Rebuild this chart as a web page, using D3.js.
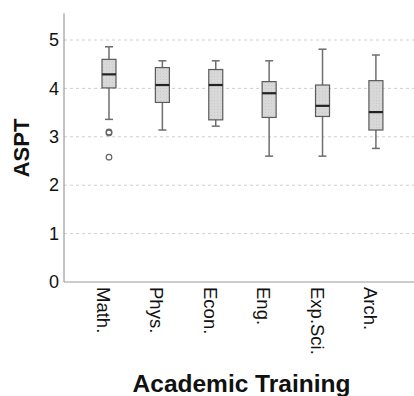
<!DOCTYPE html>
<html>
<head>
<meta charset="utf-8">
<script src="https://cdn.jsdelivr.net/npm/d3@7"></script>
<style>
  body { margin: 0; background: #fff; }
  text { font-family: "Liberation Sans", Arial, sans-serif; }
</style>
</head>
<body>
<script>
// values
var categories = ['Math.', 'Phys.', 'Econ.', 'Eng.', 'Exp.Sci.', 'Arch.']
var whiskerLow = [3.36, 3.14, 3.22, 2.60, 2.60, 2.76]
var q1 = [4.01, 3.71, 3.35, 3.40, 3.42, 3.14]
var medians = [4.29, 4.07, 4.07, 3.90, 3.64, 3.51]
var q3 = [4.60, 4.43, 4.39, 4.14, 4.07, 4.16]
var whiskerHigh = [4.86, 4.57, 4.57, 4.57, 4.81, 4.69]
var outlierCat = ['Math.', 'Math.', 'Math.']
var outlierVal = [3.10, 3.08, 2.58]
var yTicks = [0, 1, 2, 3, 4, 5]

var data = categories.map(function (c, i) {
  return { cat: c, lo: whiskerLow[i], q1: q1[i], med: medians[i], q3: q3[i], hi: whiskerHigh[i] }
})

var W = 414, H = 396
var svg = d3.select('body').append('svg')
  .attr('width', W)
  .attr('height', H)

var x = d3.scaleBand()
  .domain(categories)
  .range([82.3, 402.6])
var y = d3.scaleLinear()
  .domain([0, 5])
  .range([282, 40])

var left = 64
var boxW = 14, capW = 8
function cx(c) { return x(c) + x.bandwidth() / 2 }

// texture for the box fill
var defs = svg.append('defs')
var pat = defs.append('pattern')
  .attr('id', 'dots')
  .attr('width', 3).attr('height', 3)
  .attr('patternUnits', 'userSpaceOnUse')
pat.append('rect').attr('width', 3).attr('height', 3).attr('fill', '#d8d8d8')
pat.append('rect').attr('x', 1).attr('y', 1).attr('width', 1).attr('height', 1).attr('fill', '#cacaca')

// gridlines
svg.append('g')
  .selectAll('line')
  .data(yTicks.filter(function (t) { return t > 0 }))
  .enter()
  .append('line')
    .attr('x1', left)
    .attr('x2', W)
    .attr('y1', function (d) { return y(d) })
    .attr('y2', function (d) { return y(d) })
    .attr('stroke', '#cfcfcf')
    .attr('stroke-dasharray', '3,3')

// axes
var yAxis = d3.axisLeft(y)
  .tickValues(yTicks)
  .tickFormat(d3.format('d'))
  .tickSize(0)
  .tickPadding(5)
var gy = svg.append('g')
  .attr('transform', 'translate(' + left + ',0)')
  .call(yAxis)
gy.select('.domain').remove()
gy.selectAll('text')
  .attr('font-size', '18px')
  .attr('fill', '#111')
  .style('font-family', '"Liberation Sans", Arial, sans-serif')

svg.append('line')
  .attr('x1', left).attr('x2', left)
  .attr('y1', y(0)).attr('y2', y(5.55))
  .attr('stroke', '#888')
svg.append('line')
  .attr('x1', left).attr('x2', W)
  .attr('y1', y(0)).attr('y2', y(0))
  .attr('stroke', '#999')

// boxes
var g = svg.selectAll('.box')
  .data(data)
  .enter()
  .append('g')
    .attr('class', 'box')

g.append('line')
  .attr('x1', function (d) { return cx(d.cat) })
  .attr('x2', function (d) { return cx(d.cat) })
  .attr('y1', function (d) { return y(d.lo) })
  .attr('y2', function (d) { return y(d.hi) })
  .attr('stroke', '#6e6e6e')
  .attr('stroke-width', 1.5)

g.selectAll('.cap')
  .data(function (d) { return [{ cat: d.cat, v: d.lo }, { cat: d.cat, v: d.hi }] })
  .enter()
  .append('line')
    .attr('class', 'cap')
    .attr('x1', function (d) { return cx(d.cat) - capW / 2 })
    .attr('x2', function (d) { return cx(d.cat) + capW / 2 })
    .attr('y1', function (d) { return y(d.v) })
    .attr('y2', function (d) { return y(d.v) })
    .attr('stroke', '#6e6e6e')
    .attr('stroke-width', 1.5)

g.append('rect')
  .attr('x', function (d) { return cx(d.cat) - boxW / 2 })
  .attr('y', function (d) { return y(d.q3) })
  .attr('width', boxW)
  .attr('height', function (d) { return y(d.q1) - y(d.q3) })
  .attr('fill', 'url(#dots)')
  .attr('stroke', '#5a5a5a')
  .attr('stroke-width', 1.2)

g.append('line')
  .attr('x1', function (d) { return cx(d.cat) - boxW / 2 })
  .attr('x2', function (d) { return cx(d.cat) + boxW / 2 })
  .attr('y1', function (d) { return y(d.med) })
  .attr('y2', function (d) { return y(d.med) })
  .attr('stroke', '#222')
  .attr('stroke-width', 2.2)

// outliers
svg.selectAll('.outlier')
  .data(outlierVal)
  .enter()
  .append('circle')
    .attr('class', 'outlier')
    .attr('cx', function (d, i) { return cx(outlierCat[i]) })
    .attr('cy', function (d) { return y(d) })
    .attr('r', 2.8)
    .attr('fill', 'none')
    .attr('stroke', '#666')
    .attr('stroke-width', 1.2)

// category labels
svg.selectAll('.cat')
  .data(categories)
  .enter()
  .append('text')
    .attr('class', 'cat')
    .attr('transform', function (d) { return 'translate(' + (cx(d) - 12) + ',287) rotate(90)' })
    .attr('font-size', '18.5px')
    .attr('fill', '#111')
    .text(function (d) { return d })

// axis titles
svg.append('text')
  .attr('transform', 'translate(29,148) rotate(-90)')
  .attr('text-anchor', 'middle')
  .attr('font-size', '22px')
  .attr('font-weight', 'bold')
  .attr('fill', '#111')
  .text('ASPT')

svg.append('text')
  .attr('x', 241.5)
  .attr('y', 392)
  .attr('text-anchor', 'middle')
  .attr('font-size', '24.5px')
  .attr('font-weight', 'bold')
  .attr('fill', '#111')
  .text('Academic Training')
</script>
</body>
</html>
